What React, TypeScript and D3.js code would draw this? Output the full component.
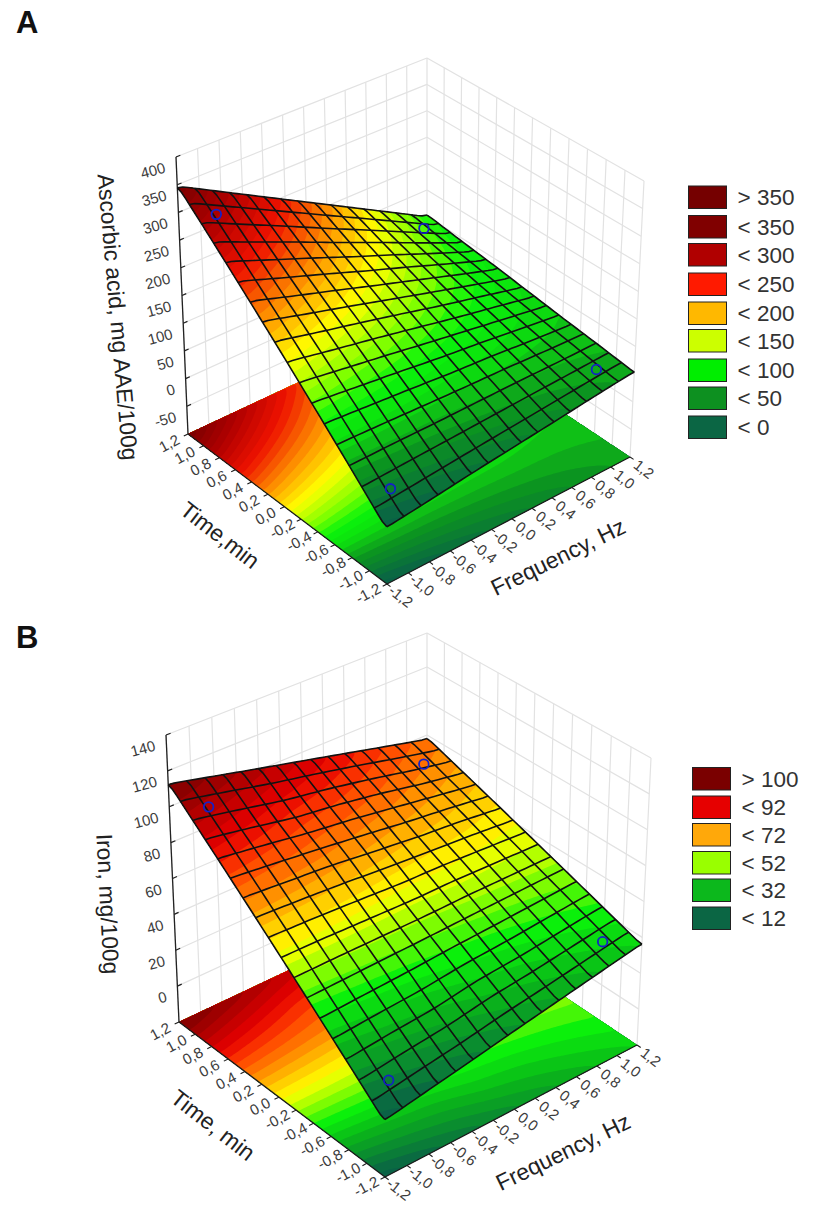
import React, { useMemo } from 'react';
import * as d3 from 'd3';

type Pt = [number, number];

// shared axes
const axisTicks = [-1.2, -1.0, -0.8, -0.6, -0.4, -0.2, 0, 0.2, 0.4, 0.6, 0.8, 1.0, 1.2];
const freqKnots = [-1.2, -0.8, -0.4, 0, 0.4, 0.8, 1.2];
const timeKnots = [1.2, 0.8, 0.4, 0, -0.4, -0.8, -1.2];
const MESH_FREQ = 15;
const MESH_TIME = 17;

// panel A: ascorbic acid, rows follow timeKnots, columns follow freqKnots
const ascorbicValues = [
  [352, 310, 268, 226, 184, 142, 100],
  [292, 259, 226, 192, 159, 125, 92],
  [232, 207, 183, 158, 134, 109, 85],
  [172, 156, 141, 125, 108, 93, 77],
  [112, 105, 98, 90, 84, 76, 69],
  [52, 54, 55, 57, 59, 60, 62],
  [-8, 2, 13, 23, 33, 44, 54],
];
const ascorbicZTicks = [-50, 0, 50, 100, 150, 200, 250, 300, 350, 400];
const ascorbicDesign = [[-1, 1, 300], [1, 1, 113], [1, -1, 55], [-1, -1, 22]];
const ascorbicLegend = ['> 350', '< 350', '< 300', '< 250', '< 200', '< 150', '< 100', '< 50', '< 0'];
const ascorbicLegendColors = ['#750000', '#800000', '#b00000', '#ff1a00', '#ffb800', '#ccff00', '#00ee00', '#0d9020', '#0b6644'];
const ascorbicRampStops = [0, 45, 62, 78, 100, 125, 162, 200, 250, 300, 350];
const ascorbicRampColors = ['#0a6246', '#0b9420', '#10b818', '#0ce00e', '#0bf40b', '#80ff00', '#ffff00', '#ff9c00', '#ee1200', '#b00000', '#780000'];

// panel B: iron
const ironValues = [
  [114, 108, 102, 96, 90, 84, 78],
  [96.5, 92, 87, 84, 80, 75, 71],
  [79, 77, 75, 72, 69, 67, 64],
  [61.5, 61, 60, 59, 59, 58, 57],
  [44, 45, 46, 47, 48, 49, 50],
  [26.5, 29, 31, 35, 37, 40, 43],
  [9, 13.5, 18, 22.5, 27, 31.5, 36],
];
const ironZTicks = [0, 20, 40, 60, 80, 100, 120, 140];
const ironDesign = [[-1, 1, 101], [1, 1, 74], [1, -1, 36.5], [-1, -1, 18.5]];
const ironLegend = ['> 100', '< 92', '< 72', '< 52', '< 32', '< 12'];
const ironLegendColors = ['#7a0000', '#e60000', '#ffa80a', '#99ff00', '#0cb81c', '#0b6644'];
const ironRampStops = [12, 30, 42, 52, 60, 72, 84, 92, 104, 114];
const ironRampColors = ['#0a6246', '#0ab01c', '#0bf00b', '#99ff00', '#ffff00', '#ffa000', '#ff4000', '#e60000', '#a80000', '#780000'];

interface PanelProps {
  letter: string;
  letterY: number;
  values: number[][];
  zDomain: [number, number];
  zTicks: number[];
  bandStep: number;
  design: number[][];
  rampStops: number[];
  rampColors: string[];
  legend: string[];
  legendColors: string[];
  legendX: number;
  legendYs: number[];
  zTitle: string;
  zTitlePos: Pt;
  zTitleAngle: number;
  timeTitle: string;
  timeTitlePos: Pt;
  freqTitlePos: Pt;
  // corners, in order front (F-,T-), right (F+,T-), back (F+,T+), left (F-,T+)
  floor: Pt[];
  top: Pt[];
}

// unit square -> quad, projective
function homography(q: Pt[]) {
  const [[x0, y0], [x1, y1], [x2, y2], [x3, y3]] = q;
  const dx1 = x1 - x2, dx2 = x3 - x2, sx = x0 - x1 + x2 - x3;
  const dy1 = y1 - y2, dy2 = y3 - y2, sy = y0 - y1 + y2 - y3;
  const den = dx1 * dy2 - dx2 * dy1;
  const g = (sx * dy2 - dx2 * sy) / den;
  const h = (dx1 * sy - sx * dy1) / den;
  const a = x1 - x0 + g * x1, b = x3 - x0 + h * x3;
  const d = y1 - y0 + g * y1, e = y3 - y0 + h * y3;
  return (u: number, v: number): Pt => {
    const w = g * u + h * v + 1;
    return [(a * u + b * v + x0) / w, (d * u + e * v + y0) / w];
  };
}

const Panel: React.FC<PanelProps> = (p) => {
  const built = useMemo(() => {
    const fScale = d3.scaleLinear().domain([-1.2, 1.2]).range([0, 1]);
    const tScale = d3.scaleLinear().domain([-1.2, 1.2]).range([0, 1]);
    const zScale = d3.scaleLinear().domain(p.zDomain).range([0, 1]);
    const floorH = homography(p.floor);
    const topH = homography(p.top);
    const project = (f: number, t: number, z: number): Pt => {
      const u = fScale(f), v = tScale(t), w = zScale(z);
      const a = floorH(u, v), b = topH(u, v);
      return [a[0] + (b[0] - a[0]) * w, a[1] + (b[1] - a[1]) * w];
    };

    // sample the read-off table, then soften the knots a little
    const n = 144;
    const fIdx = d3.scaleLinear().domain(freqKnots).range(d3.range(freqKnots.length));
    const tIdx = d3.scaleLinear().domain(timeKnots).range(d3.range(timeKnots.length));
    const knotValue = (f: number, t: number) => {
      const fi = Math.max(0, Math.min(5.999, fIdx(f)));
      const ti = Math.max(0, Math.min(5.999, tIdx(t)));
      const i = Math.floor(fi), j = Math.floor(ti);
      const a = fi - i, b = ti - j;
      const v = p.values;
      return (v[j][i] * (1 - a) + v[j][i + 1] * a) * (1 - b) + (v[j + 1][i] * (1 - a) + v[j + 1][i + 1] * a) * b;
    };
    const gridF = d3.scaleLinear().domain([0, n]).range([-1.2, 1.2]);
    const gridT = d3.scaleLinear().domain([0, n]).range([-1.2, 1.2]);
    const grid = new Float64Array(n * n);
    for (let j = 0; j < n; j++) {
      for (let i = 0; i < n; i++) {
        grid[j * n + i] = knotValue(gridF(i + 0.5), gridT(j + 0.5));
      }
    }
    d3.blur2({ data: grid, width: n, height: n }, 2);
    const surfaceAt = (gx: number, gy: number) => {
      const x = Math.max(0, Math.min(n - 1.001, gx - 0.5));
      const y = Math.max(0, Math.min(n - 1.001, gy - 0.5));
      const i = Math.floor(x), j = Math.floor(y);
      const a = x - i, b = y - j;
      return (grid[j * n + i] * (1 - a) + grid[j * n + i + 1] * a) * (1 - b)
        + (grid[(j + 1) * n + i] * (1 - a) + grid[(j + 1) * n + i + 1] * a) * b;
    };
    const surfaceFT = (f: number, t: number) => surfaceAt(gridF.invert(f), gridT.invert(t));

    const ramp = d3.scaleLinear<string>().domain(p.rampStops).range(p.rampColors).clamp(true);
    const low = d3.min(grid)! - p.bandStep;
    const high = d3.max(grid)!;
    const levels = d3.range(Math.floor(low / p.bandStep) * p.bandStep, high, p.bandStep);
    const bands = d3.contours().size([n, n]).smooth(true).thresholds(levels)(Array.from(grid));
    const line = d3.line<Pt>();

    const bandPaths = (toScreen: (gx: number, gy: number) => Pt) =>
      bands.map((b, idx) => ({
        key: idx,
        fill: ramp(b.value + p.bandStep / 2),
        d: b.coordinates.flat().map(ring => line(ring.map(([gx, gy]) => toScreen(gx, gy)))! + 'Z').join(''),
      }));

    const floorBands = bandPaths((gx, gy) => project(gridF(gx), gridT(gy), p.zDomain[0]));
    const surfaceBands = bandPaths((gx, gy) => project(gridF(gx), gridT(gy), surfaceAt(gx, gy)));

    // mesh lines follow the surface
    const along = d3.range(0, 49).map(k => -1.2 + (2.4 * k) / 48);
    const mesh: string[] = [];
    d3.range(0, MESH_FREQ + 1).forEach(k => {
      const f = -1.2 + (2.4 * k) / MESH_FREQ;
      mesh.push(line(along.map(s => project(f, s, surfaceFT(f, s))))!);
    });
    d3.range(0, MESH_TIME + 1).forEach(k => {
      const t = -1.2 + (2.4 * k) / MESH_TIME;
      mesh.push(line(along.map(s => project(s, t, surfaceFT(s, t))))!);
    });

    return { project, floorBands, surfaceBands, mesh, line };
  }, [p]);

  const { project, floorBands, surfaceBands, mesh, line } = built;
  const [zMin, zMax] = p.zDomain;
  const wallZ = [zMin, ...p.zTicks];
  const font = '"Liberation Sans", Arial, sans-serif';
  const tickColor = '#3c3c3c';

  const wallLine = (a: Pt, b: Pt) => line([a, b])!;

  return (
    <g fontFamily={font}>
      <text x={16} y={p.letterY} fontSize={31} fontWeight="bold" fill="#111">{p.letter}</text>

      {/* back walls */}
      <g stroke="#e2e2e2" strokeWidth={1.2} fill="none">
        {wallZ.map(z => (
          <path key={`wz-${z}`} d={
            wallLine(project(-1.2, 1.2, z), project(1.2, 1.2, z)) +
            wallLine(project(1.2, 1.2, z), project(1.2, -1.2, z))
          } />
        ))}
        {axisTicks.map(tk => (
          <path key={`wv-${tk}`} d={
            wallLine(project(tk, 1.2, zMin), project(tk, 1.2, zMax)) +
            wallLine(project(1.2, tk, zMin), project(1.2, tk, zMax))
          } />
        ))}
      </g>

      {/* floor contour */}
      <g>
        {floorBands.map(b => <path key={b.key} d={b.d} fill={b.fill} fillRule="evenodd" />)}
      </g>

      {/* z axis */}
      <path d={wallLine(project(-1.2, 1.2, zMin), project(-1.2, 1.2, zMax))} stroke="#222" strokeWidth={1.3} fill="none" />
      {[...p.zTicks].map(z => (
        <path key={`zt-${z}`} d={wallLine(project(-1.2, 1.2, z), project(-1.16, 1.2, z))} stroke="#222" strokeWidth={1.2} fill="none" />
      ))}
      {p.zTicks.map(z => {
        const [x, y] = project(-1.2, 1.2, z);
        return (
          <text key={`zl-${z}`} transform={`translate(${x - 11},${y + 10}) rotate(-15)`} textAnchor="end"
            dominantBaseline="central" fontSize={15} fill={tickColor}>{z}</text>
        );
      })}

      {/* floor axes */}
      <path d={wallLine(project(-1.2, 1.2, zMin), project(-1.2, -1.2, zMin)) + wallLine(project(-1.2, -1.2, zMin), project(1.2, -1.2, zMin))}
        stroke="#1c1c1c" strokeWidth={1.3} fill="none" />
      {axisTicks.map(tk => {
        const [tx, ty] = project(-1.2, tk, zMin);
        const [fx, fy] = project(tk, -1.2, zMin);
        const label = d3.format('.1f')(tk).replace('.', ',').replace('−', '-');
        return (
          <g key={`ax-${tk}`}>
            <path d={wallLine([tx, ty], project(-1.24, tk, zMin)) + wallLine([fx, fy], project(tk, -1.24, zMin))} stroke="#1c1c1c" strokeWidth={1.1} fill="none" />
            <text transform={`translate(${tx - 19},${ty + 9}) rotate(-28)`} textAnchor="middle" dominantBaseline="central" fontSize={15} fill={tickColor}>{label}</text>
            <text transform={`translate(${fx + 14},${fy + 12}) rotate(38)`} textAnchor="middle" dominantBaseline="central" fontSize={15} fill={tickColor}>{label}</text>
          </g>
        );
      })}

      {/* surface */}
      <g>
        {surfaceBands.map(b => <path key={b.key} d={b.d} fill={b.fill} fillRule="evenodd" />)}
      </g>
      <g stroke="#121212" strokeWidth={1.6} fill="none" strokeLinejoin="round">
        {mesh.map((d, i) => <path key={i} d={d} />)}
      </g>

      {/* design points */}
      {p.design.map(([f, t, z]) => {
        const [x, y] = project(f, t, z);
        return <circle key={`${f}-${t}`} cx={x} cy={y} r={4.8} fill="none" stroke="#1420c8" strokeWidth={1.8} />;
      })}

      {/* titles */}
      <text transform={`translate(${p.zTitlePos[0]},${p.zTitlePos[1]}) rotate(${p.zTitleAngle})`} textAnchor="middle" dominantBaseline="central" fontSize={22.8} fill="#222">{p.zTitle}</text>
      <text transform={`translate(${p.timeTitlePos[0]},${p.timeTitlePos[1]}) rotate(38)`} textAnchor="middle" dominantBaseline="central" fontSize={22.8} fill="#222">{p.timeTitle}</text>
      <text transform={`translate(${p.freqTitlePos[0]},${p.freqTitlePos[1]}) rotate(-26)`} textAnchor="middle" dominantBaseline="central" fontSize={22.8} fill="#222">Frequency, Hz</text>

      {/* legend */}
      {p.legend.map((label, i) => (
        <g key={label}>
          <rect x={p.legendX} y={p.legendYs[i]} width={38} height={22.5} fill={p.legendColors[i]} stroke="#222" strokeWidth={1} />
          <text x={p.legendX + 49} y={p.legendYs[i] + 11.5} dominantBaseline="central" fontSize={22.5} fill="#333">{label}</text>
        </g>
      ))}
    </g>
  );
};

const App: React.FC = () => (
  <svg width={839} height={1226} style={{ position: 'absolute', left: 0, top: 0, background: '#fff' }}>
    <Panel
      letter="A" letterY={33}
      values={ascorbicValues} zDomain={[-100, 400]} zTicks={ascorbicZTicks} bandStep={10}
      design={ascorbicDesign} rampStops={ascorbicRampStops} rampColors={ascorbicRampColors}
      legend={ascorbicLegend} legendColors={ascorbicLegendColors} legendX={688.5}
      legendYs={[186, 215.5, 243.5, 273, 302, 329.5, 359, 387, 416]}
      zTitle="Ascorbic acid, mg AAE/100g" zTitlePos={[118, 317]} zTitleAngle={85}
      timeTitle="Time,min" timeTitlePos={[220, 535]} freqTitlePos={[558, 557]}
      floor={[[387, 584], [630, 457], [427, 322], [188, 434]]}
      top={[[386, 290], [644, 181], [427, 58], [176, 157]]}
    />
    <Panel
      letter="B" letterY={648}
      values={ironValues} zDomain={[-20, 140]} zTicks={ironZTicks} bandStep={4}
      design={ironDesign} rampStops={ironRampStops} rampColors={ironRampColors}
      legend={ironLegend} legendColors={ironLegendColors} legendX={692.5}
      legendYs={[767.5, 796, 823.5, 851.5, 879, 907]}
      zTitle="Iron, mg/100g" zTitlePos={[108, 904]} zTitleAngle={87}
      timeTitle="Time, min" timeTitlePos={[213, 1125]} freqTitlePos={[563, 1152]}
      floor={[[385, 1177], [637, 1045], [427, 905], [179, 1022]]}
      top={[[384, 877], [651, 758], [427, 633], [166, 735]]}
    />
  </svg>
);

export default App;
